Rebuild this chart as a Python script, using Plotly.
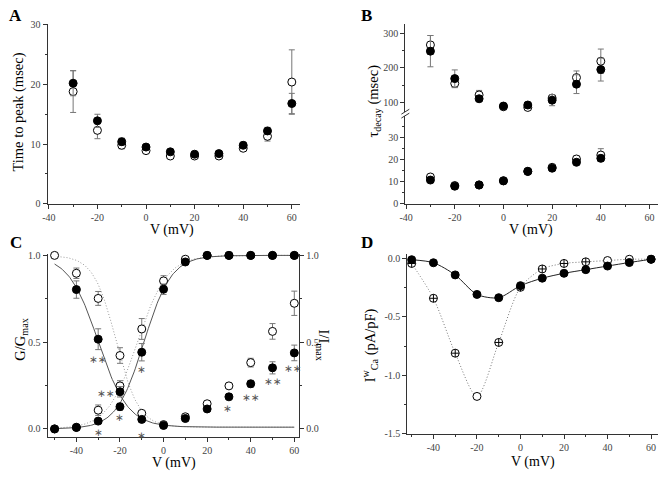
import numpy as np
import plotly.graph_objects as go

W, H = 661, 477
FONT = "Liberation Serif"


def px(x):
    return x / W


def py(y):
    return 1 - y / H


# ---------------- data ----------------
# Panel A: time to peak
V_A = [-30, -20, -10, 0, 10, 20, 30, 40, 50, 60]
A_open = [18.8, 12.3, 9.8, 8.9, 8.0, 8.0, 8.0, 9.3, 11.3, 20.4]
A_open_err = [3.5, 1.4, 0.6, 0.4, 0.3, 0.3, 0.3, 0.4, 0.8, 5.4]
A_filled = [20.2, 13.9, 10.4, 9.5, 8.7, 8.3, 8.4, 9.8, 12.2, 16.8]
A_filled_err = [2.1, 1.1, 0.6, 0.4, 0.4, 0.3, 0.4, 0.5, 0.6, 1.7]

# Panel B: tau decay (slow = upper segment, fast = lower segment)
V_B = [-30, -20, -10, 0, 10, 20, 30, 40]
B_open_slow = [266, 155, 122, 88, 86, 113, 172, 219]
B_open_slow_err = [27, 12, 13, 6, 6, 8, 19, 35]
B_filled_slow = [248, 169, 111, 90, 93, 107, 153, 195]
B_filled_slow_err = [45, 25, 8, 6, 8, 16, 27, 33]
B_open_fast = [12.2, 8.3, 8.6, 10.5, 14.8, 16.6, 20.4, 22.2]
B_open_fast_err = [1.2, 0.8, 0.8, 0.8, 0.8, 1.0, 1.5, 2.9]
B_filled_fast = [10.8, 8.0, 8.5, 10.4, 14.7, 16.2, 18.9, 20.7]
B_filled_fast_err = [1.0, 1.2, 0.6, 0.6, 0.8, 0.8, 0.8, 1.4]

# Panel C: activation (G/Gmax) and inactivation (I/Imax)
V_C = [-50, -40, -30, -20, -10, 0, 10, 20, 30, 40, 50, 60]
C_act_filled = [0.0, 0.008, 0.045, 0.128, 0.442, 0.805, 0.962, 1.0, 1.0, 1.0, 1.0, 1.0]
C_act_filled_err = [0, 0.005, 0.01, 0.02, 0.05, 0.03, 0.01, 0, 0, 0, 0, 0]
C_act_open = [0.0, 0.01, 0.108, 0.248, 0.576, 0.853, 0.978, 1.0, 1.0, 1.0, 1.0, 1.0]
C_act_open_err = [0, 0.005, 0.03, 0.03, 0.06, 0.03, 0.015, 0, 0, 0, 0, 0]
C_inact_filled = [None, 0.803, 0.517, 0.214, 0.055, 0.02, 0.06, 0.115, 0.185, 0.26, 0.352, 0.438]
C_inact_filled_err = [0, 0.05, 0.06, 0.03, 0.01, 0.01, 0.01, 0.01, 0.015, 0.02, 0.035, 0.045]
C_inact_open = [1.0, 0.897, 0.752, 0.423, 0.09, 0.025, 0.07, 0.145, 0.248, 0.382, 0.562, 0.724]
C_inact_open_err = [0, 0.03, 0.04, 0.045, 0.01, 0.01, 0.015, 0.01, 0.015, 0.025, 0.045, 0.07]
# Boltzmann fit parameters: (V_half, k)
FIT_act_filled = (-9.0, 6.3)
FIT_act_open = (-12.0, 6.8)
FIT_inact_filled = (-30.0, 6.8)
FIT_inact_open = (-21.7, 5.2)
FIT_inact_floor = 0.01
FIT_V_range = (-50, 60)
# significance marks (V, y, text)
C_stars = [(-30, 0.41, "∗∗"), (-26.5, 0.21, "∗∗"), (-30, -0.012, "∗"), (-20, 0.072, "∗"),
           (-10, 0.35, "∗"), (-10, -0.03, "∗"), (29.5, 0.125, "∗"), (40, 0.19, "∗∗"),
           (50, 0.28, "∗∗"), (59.6, 0.355, "∗∗")]

# Panel D: I-V
V_D = [-50, -40, -30, -20, -10, 0, 10, 20, 30, 40, 50, 60]
D_filled = [-0.01, -0.036, -0.14, -0.307, -0.335, -0.232, -0.168, -0.126, -0.095, -0.064, -0.034, -0.006]
D_open = [-0.042, -0.34, -0.81, -1.18, -0.718, -0.246, -0.089, -0.042, -0.028, -0.017, -0.006, -0.006]

# tick labels
X_TICKS = [-40, -20, 0, 20, 40, 60]
X_TICK_TEXT = ["-40", "-20", "0", "20", "40", "60"]
A_Y_TICKS = [0, 10, 20, 30]
B_LOW_TICKS = [0, 10, 20, 30]
B_UP_TICKS = [100, 200, 300]
C_Y_TICKS = [0.0, 0.5, 1.0]
C_Y_TICK_TEXT = ["0.0", "0.5", "1.0"]
D_Y_TICKS = [0.0, -0.5, -1.0, -1.5]
D_Y_TICK_TEXT = ["0.0", "-0.5", "-1.0", "-1.5"]

# ---------------- styles ----------------
INK = "#333333"
ERR = "#777777"
MS = 8
DOTS = "1px,2px"


def ax(**kw):
    d = dict(showline=True, linecolor=INK, linewidth=1, ticks="outside", ticklen=4,
             tickwidth=1, tickcolor=INK, showgrid=False, zeroline=False,
             tickfont=dict(family=FONT, size=10, color="#444444"), fixedrange=True)
    d.update(kw)
    return d


def minor(vals):
    return dict(ticks="outside", ticklen=2, tickcolor=INK, tickwidth=1, tickvals=vals, showgrid=False)


def pts(x, y, err, filled, xa, ya, symbol=None):
    mk = dict(size=MS, color="black" if filled else "white",
              line=dict(color="black", width=1))
    if symbol is not None:
        mk["symbol"] = symbol
    return go.Scatter(x=x, y=y, mode="markers", xaxis=xa, yaxis=ya, marker=mk,
                      error_y=dict(type="data", array=err, color=ERR, thickness=1, width=3,
                                   visible=err is not None),
                      cliponaxis=False, showlegend=False, hoverinfo="skip")


fig = go.Figure()

# Panel A
fig.add_trace(pts(V_A, A_open, A_open_err, False, "x", "y"))
fig.add_trace(pts(V_A, A_filled, A_filled_err, True, "x", "y"))

# Panel B
fig.add_trace(pts(V_B, B_open_fast, B_open_fast_err, False, "x2", "y2"))
fig.add_trace(pts(V_B, B_filled_fast, B_filled_fast_err, True, "x2", "y2"))
fig.add_trace(pts(V_B, B_open_slow, B_open_slow_err, False, "x2", "y3"))
fig.add_trace(pts(V_B, B_filled_slow, B_filled_slow_err, True, "x2", "y3"))

# Panel C fits
Vf = np.linspace(FIT_V_range[0], FIT_V_range[1], 221)


def act(p):
    return 1 / (1 + np.exp((p[0] - Vf) / p[1]))


def inact(p):
    return FIT_inact_floor + (1 - FIT_inact_floor) / (1 + np.exp((Vf - p[0]) / p[1]))


for yv, col, dash in [(act(FIT_act_open), "#9a9a9a", DOTS), (inact(FIT_inact_open), "#9a9a9a", DOTS),
                      (act(FIT_act_filled), "#555555", "solid"), (inact(FIT_inact_filled), "#555555", "solid")]:
    fig.add_trace(go.Scatter(x=Vf, y=yv, mode="lines", xaxis="x3", yaxis="y4",
                             line=dict(color=col, width=1, dash=dash),
                             showlegend=False, hoverinfo="skip"))

fig.add_trace(pts(V_C, C_act_open, C_act_open_err, False, "x3", "y4"))
fig.add_trace(pts(V_C, C_inact_open, C_inact_open_err, False, "x3", "y4"))
fig.add_trace(pts(V_C, C_act_filled, C_act_filled_err, True, "x3", "y4"))
fig.add_trace(pts(V_C, C_inact_filled, C_inact_filled_err, True, "x3", "y4"))

# invisible trace to activate right axis
fig.add_trace(go.Scatter(x=[V_C[0]], y=[C_Y_TICKS[0]], mode="markers", xaxis="x3", yaxis="y5",
                         marker=dict(size=1, opacity=0), showlegend=False, hoverinfo="skip"))

# Panel D
fig.add_trace(go.Scatter(x=V_D, y=D_open, mode="lines", xaxis="x4", yaxis="y6",
                         line=dict(color="#777777", width=1, dash=DOTS, shape="spline", smoothing=0.8),
                         showlegend=False, hoverinfo="skip"))
fig.add_trace(go.Scatter(x=V_D, y=D_filled, mode="lines", xaxis="x4", yaxis="y6",
                         line=dict(color="#222222", width=1, shape="spline", smoothing=0.8),
                         showlegend=False, hoverinfo="skip"))
D_sym = ["circle-cross" if v not in (-20, 40, 50) else "circle" for v in V_D]
fig.add_trace(pts(V_D, D_open, None, False, "x4", "y6", symbol=D_sym))
fig.add_trace(pts(V_D, D_filled, None, True, "x4", "y6"))

x_minor = [-50, -30, -10, 10, 30, 50]

fig.update_layout(
    width=W, height=H, margin=dict(l=0, r=0, t=0, b=0), autosize=False,
    paper_bgcolor="white", plot_bgcolor="rgba(0,0,0,0)", showlegend=False,
    font=dict(family=FONT, color=INK),
    # Panel A
    xaxis=ax(domain=[px(42), px(297)], range=[-40.5, 63.5], anchor="y",
             tickvals=X_TICKS, ticktext=X_TICK_TEXT, minor=minor(x_minor)),
    yaxis=ax(domain=[py(204), py(20)], range=[0, 30.2], anchor="x",
             tickvals=A_Y_TICKS, minor=minor([5, 15, 25])),
    # Panel B
    xaxis2=ax(domain=[px(403), px(658)], range=[-40.3, 63.5], anchor="y2",
              tickvals=X_TICKS, ticktext=X_TICK_TEXT, minor=minor(x_minor)),
    yaxis2=ax(domain=[py(204), py(114.4)], range=[0, 40], anchor="x2",
              tickvals=B_LOW_TICKS, minor=minor([5, 15, 25, 35])),
    yaxis3=ax(domain=[py(110), py(20)], range=[73.8, 327.3], anchor="x2",
              tickvals=B_UP_TICKS, minor=minor([150, 250])),
    # Panel C
    xaxis3=ax(domain=[px(42), px(296)], range=[-53.2, 62.3], anchor="y4",
              tickvals=X_TICKS, ticktext=X_TICK_TEXT, minor=minor(x_minor)),
    yaxis4=ax(domain=[py(442), py(255)], range=[-0.045, 1.01], anchor="x3",
              tickvals=C_Y_TICKS, ticktext=C_Y_TICK_TEXT, minor=minor([0.25, 0.75])),
    yaxis5=ax(domain=[py(442), py(255)], range=[-0.045, 1.01], anchor="x3", overlaying="y4",
              side="right", tickvals=C_Y_TICKS, ticktext=C_Y_TICK_TEXT, minor=minor([0.25, 0.75])),
    # Panel D
    xaxis4=ax(domain=[px(405), px(658)], range=[-52, 63.2], anchor="y6",
              tickvals=X_TICKS, ticktext=X_TICK_TEXT, minor=minor(x_minor)),
    yaxis6=ax(domain=[py(439), py(255)], range=[-1.5, 0.042], anchor="x4",
              tickvals=D_Y_TICKS, ticktext=D_Y_TICK_TEXT, minor=minor([-0.25, -0.75, -1.25])),
)

ann = []


def label(x, y, text, size=14, angle=0, bold=False, color="black"):
    if bold:
        text = "<b>" + text + "</b>"
    ann.append(dict(x=px(x), y=py(y), xref="paper", yref="paper", text=text, showarrow=False,
                    textangle=angle, font=dict(family=FONT, size=size, color=color),
                    xanchor="center", yanchor="middle"))


label(10, 12, "A", 17, bold=True)
label(364, 12, "B", 17, bold=True)
label(10, 244, "C", 17, bold=True)
label(364, 244, "D", 17, bold=True)

label(168, 231, "V (mV)")
label(530, 231, "V (mV)")
label(170, 468.5, "V (mV)")
label(532, 468, "V (mV)")

label(13, 110, "Time to peak (msec)", size=14.5, angle=-90)
label(371, 99, "τ<sub>decay</sub> (msec)", size=14.5, angle=-90)
label(15, 343, "G/G<sub>max</sub>", size=14.5, angle=-90)
label(320, 348, "I/I<sub>max</sub>", size=14.5, angle=90)
label(367, 349, "I<sup>w</sup><sub>Ca</sub> (pA/pF)", size=14.5, angle=-90)

for (sx, sy, st) in C_stars:
    ann.append(dict(x=sx, y=sy, xref="x3", yref="y4", text=st, showarrow=False,
                    font=dict(family="DejaVu Sans", size=10.5, color="#555555"),
                    xanchor="center", yanchor="middle", yshift=-1))

fig.update_layout(annotations=ann)

# axis break marks on panel B
for dy in (0, 4):
    fig.add_shape(type="line", xref="paper", yref="paper",
                  x0=px(399), y0=py(112.5 + dy), x1=px(407), y1=py(107.5 + dy),
                  line=dict(color=INK, width=1))

fig.write_html("out.html", config={"displayModeBar": False, "staticPlot": True},
               post_script="document.body.style.margin='0px';")
